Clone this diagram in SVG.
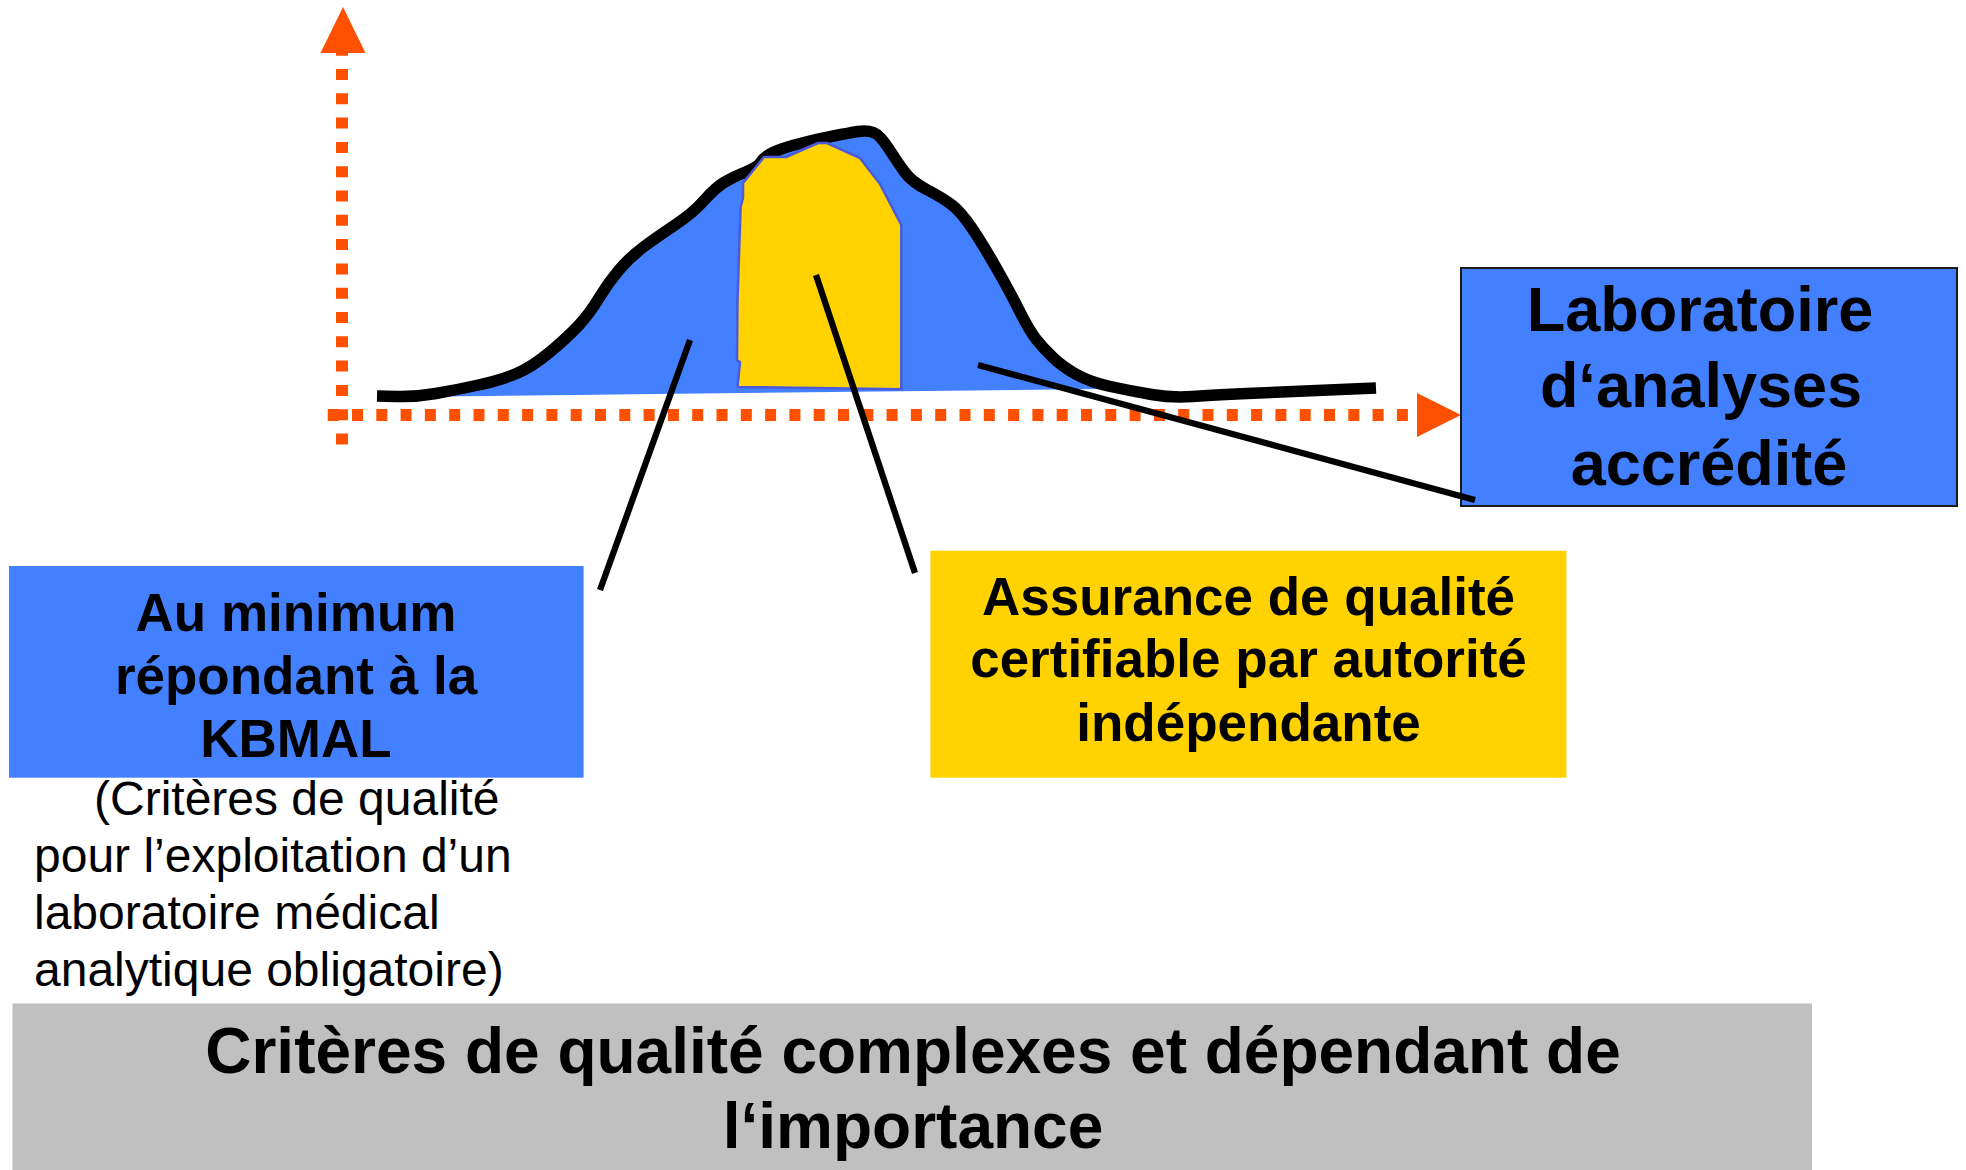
<svg xmlns="http://www.w3.org/2000/svg" width="1966" height="1170" viewBox="0 0 1966 1170">
<defs>
<style>
.axis{stroke:#FF5000;stroke-width:12;stroke-dasharray:11 13.3;fill:none}
.head{fill:#FF5000}
.blue{fill:#4380FF}
.bold{font-family:"Liberation Sans",Arial,sans-serif;font-weight:bold;fill:#000;text-anchor:middle}
.reg{font-family:"Liberation Sans",Arial,sans-serif;font-size:48px;fill:#000}
.ptr{stroke:#000;stroke-width:6.3;fill:none}
</style>
</defs>
<rect x="0" y="0" width="1966" height="1170" fill="#FFFFFF"/>

<g id="axes">
<line class="axis" x1="342" y1="44.7" x2="342" y2="446"/>
<line class="axis" x1="327.7" y1="415" x2="1410" y2="415"/>
<polygon class="head" points="343,7 320.5,53 365.5,53"/>
<polygon class="head" points="1417,393 1461,415 1417,437"/>
</g>

<g id="distribution">
<path class="blue" d="M436,395 Q456,390 478.5,385 Q501,380 516.5,373.5 Q532,367 550,352 Q568,337 579,325 Q590,313 599,298 Q608,283 619,270 Q630,257 643.5,247 Q657,237 675,225 Q693,213 704,200.5 Q715,188 724,182.5 Q733,177 745.5,172 Q758,167 761,162 Q764,157 773,152.5 Q782,148 800,143.5 Q818,139 833.5,136 Q849,133 858,131.5 Q867,130 873.5,132.5 Q880,135 889,149 Q898,163 905,172.5 Q912,182 927.5,190 Q943,198 952,205 Q961,212 971.5,227.5 Q982,243 995.5,266.5 Q1009,290 1019,310 Q1029,330 1036,339 Q1043,348 1053,357.5 Q1063,367 1076.5,374.5 Q1090,382 1098,389 L436,396.5 Z"/>
<path d="M377,396 L396.5,396.5 Q416,397 436,393.5 Q456,390 478.5,385 Q501,380 516.5,373.5 Q532,367 550,352 Q568,337 579,325 Q590,313 599,298 Q608,283 619,270 Q630,257 643.5,247 Q657,237 675,225 Q693,213 704,200.5 Q715,188 724,182.5 Q733,177 745.5,172 Q758,167 761,162 Q764,157 773,152.5 Q782,148 800,143.5 Q818,139 833.5,136 Q849,133 858,131.5 Q867,130 873.5,132.5 Q880,135 889,149 Q898,163 905,172.5 Q912,182 927.5,190 Q943,198 952,205 Q961,212 971.5,227.5 Q982,243 995.5,266.5 Q1009,290 1019,310 Q1029,330 1036,339 Q1043,348 1053,357.5 Q1063,367 1076.5,374.5 Q1090,382 1110.5,386.5 Q1131,391 1151.5,394.5 Q1172,398 1192.5,396.5 Q1213,395 1247,393.5 Q1281,392 1328.5,390 L1376,388" fill="none" stroke="#000" stroke-width="11.5" stroke-linejoin="round"/>
<polygon points="737.5,387 740,362 737,360 737.5,300 740.6,207 743,198 743,183 764,157 786,157 818,143 827,143 860,158 880,184 901.3,225 901.3,389.3" fill="#FFD200" stroke="#4A5ADB" stroke-width="2.5" stroke-linejoin="round"/>
</g>

<g id="node-accredite">
<rect x="1461" y="268" width="496" height="238" class="blue" stroke="#1a1a1a" stroke-width="2"/>
<text class="bold" font-size="63" x="1700" y="331">Laboratoire</text>
<text class="bold" font-size="63" x="1701" y="407">d‘analyses</text>
<text class="bold" font-size="63" x="1709" y="485">accrédité</text>
</g>

<g id="node-kbmal">
<rect x="9" y="566" width="574.6" height="211.7" class="blue"/>
<text class="bold" font-size="53" x="296" y="631">Au minimum</text>
<text class="bold" font-size="53" x="296" y="694">répondant à la</text>
<text class="bold" font-size="53" x="296" y="757">KBMAL</text>
</g>

<g id="note-kbmal">
<text class="reg" x="94" y="815">(Critères de qualité</text>
<text class="reg" x="34" y="872">pour l’exploitation d’un</text>
<text class="reg" x="34" y="929">laboratoire médical</text>
<text class="reg" x="34" y="986">analytique obligatoire)</text>
</g>

<g id="node-assurance">
<rect x="930.4" y="550.7" width="636" height="227" fill="#FFD200"/>
<text class="bold" font-size="53" x="1248.5" y="615">Assurance de qualité</text>
<text class="bold" font-size="53" x="1248.5" y="677">certifiable par autorité</text>
<text class="bold" font-size="53" x="1248.5" y="741">indépendante</text>
</g>

<g id="node-criteres">
<rect x="12.5" y="1003.5" width="1799.5" height="166.5" fill="#BFC0BF"/>
<text class="bold" font-size="64" x="913" y="1073">Critères de qualité complexes et dépendant de</text>
<text class="bold" font-size="64" x="913" y="1148">l‘importance</text>
</g>

<g id="connectors">
<line class="ptr" x1="690" y1="340" x2="600" y2="590"/>
<line class="ptr" x1="816" y1="275" x2="915" y2="573"/>
<line class="ptr" x1="978" y1="365" x2="1475" y2="500"/>
</g>
</svg>
